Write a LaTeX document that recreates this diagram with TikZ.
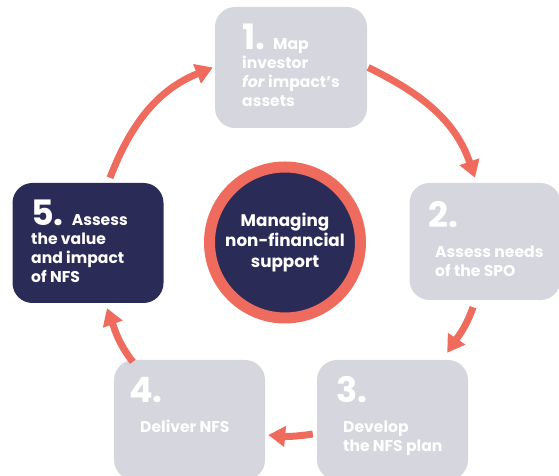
\documentclass[tikz,border=0pt]{standalone}
\usepackage{fontspec}
\setmainfont{Poppins}
\usetikzlibrary{arrows.meta}
\definecolor{cardgrey}{HTML}{D5D6DE}
\definecolor{navy}{HTML}{2B2B58}
\definecolor{coral}{HTML}{EE6B5E}
\def\bignum#1{{\fontsize{35}{35}\selectfont #1}}
\tikzset{
	card/.style={rectangle, rounded corners=20pt, fill=cardgrey, inner sep=0pt, minimum width=151, minimum height=120},
	stepnum/.style={anchor=base west, inner sep=0pt, text=white, font=\fontsize{35}{35}\selectfont\bfseries},
	% base of a multi-line node sits on its last line
	steptext/.style={anchor=base west, inner sep=0pt, text=white, align=left, font=\fontsize{15.6}{19.3}\selectfont\bfseries},
	flow/.style={line width=7pt, draw=coral, -{Triangle[width=20pt,length=17pt]}}
}

\begin{document}
\begin{tikzpicture}[x=1pt, y=1pt]
		%%%%% START %%%%%
		\useasboundingbox (0, 0) rectangle (559, 476);
		\clip (0, 0) rectangle (559, 476);
		
		% the five cards
		\node[card, minimum width=152, minimum height=121] (b1) at (291, 408.5) {};
		\node[card, minimum height=117] (b2) at (485, 234.5) {};
		\node[card] (b3) at (392.5, 56) {};
		\node[card] (b4) at (189.5, 56) {};
		\node[card, fill=navy] (b5) at (88, 233) {};
		
		% hub in the middle
		\node[circle, fill=navy, draw=coral, line width=11pt, minimum size=151, text=white, align=center,
			font=\fontsize{16.8}{20.5}\selectfont\bfseries] (hub) at (285, 233.5) {Managing\\non-financial\\support};
		
		% card texts
		\node[steptext] (t1) at (242, 369) {\bignum{1.}\hspace{8pt}Map\\investor\\\textit{for} impact’s\\assets};
		
		\node[stepnum] (n2) at (428, 248) {2.};
		\node[steptext] (t2) at (435, 199) {Assess needs\\of the SPO};
		
		\node[stepnum] (n3) at (336, 73) {3.};
		\node[steptext] (t3) at (343, 24) {Develop\\the NFS plan};
		
		\node[stepnum] (n4) at (129, 73) {4.};
		\node[steptext] (t4) at (140, 43) {Deliver NFS};
		
		\node[steptext] (t5) at (31, 193) {\bignum{5.}\hspace{8pt}Assess\\the value\\and impact\\of NFS};
		
		% arrows round the cycle
		\draw[flow] ([shift={(1, 0)}]b1.east) to[out=-26, in=109] ([shift={(-10, 5)}]b2.north);
		\draw[flow] ([shift={(-12, -7)}]b2.south) to[out=-109, in=56] ([shift={(-21, 7)}]b3.north east);
		\draw[flow] ([shift={(-4, -14)}]b3.west) to[out=-171, in=-5] ([shift={(3, -15)}]b4.east);
		\draw[flow] ([shift={(19, -2)}]b4.north west) to[out=128, in=-70] ([shift={(19, -5)}]b5.south);
		\draw[flow] ([shift={(22, 5)}]b5.north) to[out=69, in=-158] ([shift={(-2, 0)}]b1.west);
		
		%%%%% END %%%%%
\end{tikzpicture}
\end{document}
